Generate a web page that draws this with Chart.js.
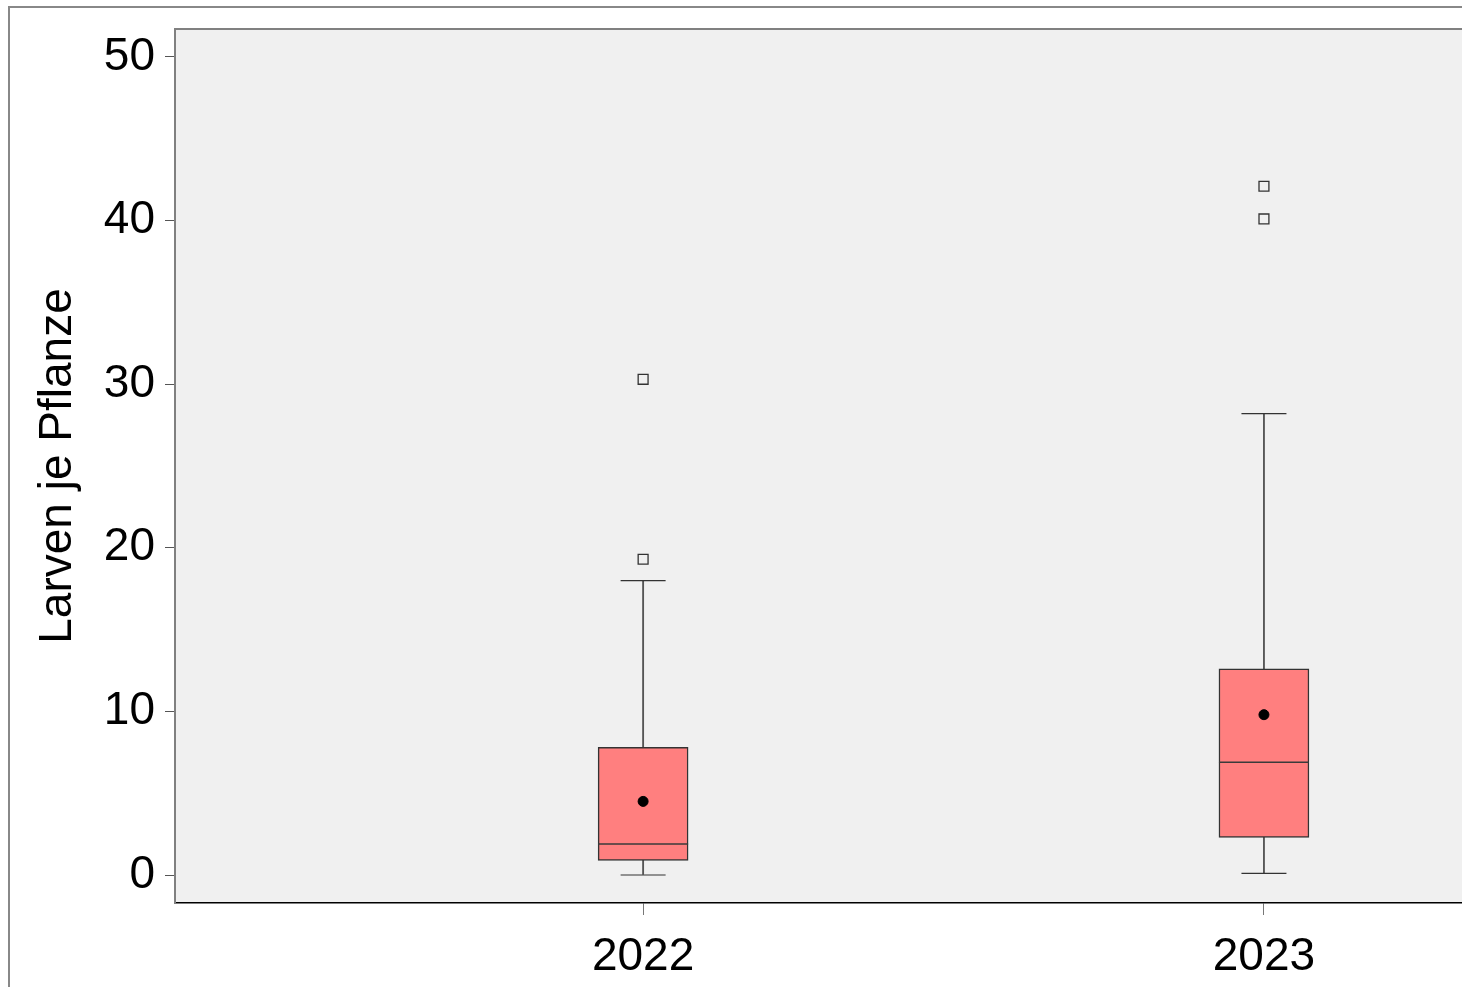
<!DOCTYPE html>
<html>
<head>
<meta charset="utf-8">
<script src="https://cdn.jsdelivr.net/npm/chart.js@4"></script>
<style>
  html, body { margin: 0; padding: 0; background: #fff; overflow: hidden; }
  #frame { position: absolute; left: 8px; top: 6px; width: 1500px; height: 1000px; border: 2px solid #888; box-sizing: border-box; }
  #wrap { position: absolute; left: 0; top: 0; width: 1462px; height: 987px; }
</style>
</head>
<body>
<div id="frame"></div>
<div id="wrap"><canvas id="chart"></canvas></div>
<script>
// Larven je Pflanze, per year
const years = [2022, 2023];
const whiskerLow = [0, 0.1];
const q1 = [0.9, 2.3];
const median = [1.9, 6.9];
const q3 = [7.8, 12.6];
const whiskerHigh = [18.0, 28.2];
const mean = [4.5, 9.8];
const outliers = [[19.3, 30.3], [40.1, 42.1]];
const yTicks = [0, 10, 20, 30, 40, 50];

const FONT = "'Liberation Sans', Arial, sans-serif";

const plotBackground = {
  id: "plotBackground",
  beforeDraw(chart) {
    const { ctx, chartArea: a } = chart;
    ctx.save();
    ctx.fillStyle = "#f0f0f0";
    ctx.fillRect(a.left, a.top, a.right - a.left, a.bottom - a.top);
    ctx.strokeStyle = "#808080";
    ctx.lineWidth = 2;
    ctx.beginPath();
    ctx.moveTo(a.left, a.top);
    ctx.lineTo(a.right, a.top);
    ctx.stroke();
    ctx.restore();
  },
};

const outlierPoints = [];
years.forEach((yr, i) => {
  outliers[i].forEach((v) => outlierPoints.push({ x: yr, y: v }));
});

new Chart("chart", {
  type: "bar",
  data: {
    datasets: [
      {
        type: "scatter",
        label: "mean",
        data: years.map((yr, i) => ({ x: yr, y: mean[i] })),
        pointStyle: "circle",
        pointRadius: 5,
        backgroundColor: "#000",
        borderColor: "#000",
        order: 1,
      },
      {
        type: "scatter",
        label: "median",
        data: years.map((yr, i) => ({ x: yr, y: median[i] })),
        pointStyle: "line",
        pointRadius: 45,
        borderColor: "#3a3a3a",
        borderWidth: 1.5,
        order: 2,
      },
      {
        label: "box",
        data: years.map((yr, i) => ({ x: yr, y: [q1[i], q3[i]] })),
        backgroundColor: "#ff7f7f",
        borderColor: "#333",
        borderWidth: 1.5,
        borderSkipped: false,
        barThickness: 90,
        grouped: false,
        order: 3,
      },
      {
        type: "scatter",
        label: "caps",
        data: years.flatMap((yr, i) => [
          { x: yr, y: whiskerLow[i] },
          { x: yr, y: whiskerHigh[i] },
        ]),
        pointStyle: "line",
        pointRadius: 22.5,
        borderColor: "#333",
        borderWidth: 1.2,
        order: 4,
      },
      {
        label: "whisker",
        data: years.map((yr, i) => ({ x: yr, y: [whiskerLow[i], whiskerHigh[i]] })),
        backgroundColor: "#555",
        borderWidth: 0,
        barThickness: 1.2,
        grouped: false,
        order: 5,
      },
      {
        type: "scatter",
        label: "outliers",
        data: outlierPoints,
        pointStyle: "rect",
        pointRadius: 7,
        backgroundColor: "rgba(0,0,0,0)",
        borderColor: "#333",
        borderWidth: 1.3,
        order: 0,
      },
    ],
  },
  options: {
    responsive: true,
    maintainAspectRatio: false,
    animation: false,
    layout: { autoPadding: false, padding: { top: 29, left: 0, right: 0, bottom: 0 } },
    plugins: {
      legend: { display: false },
      tooltip: { enabled: false },
    },
    scales: {
      x: {
        type: "linear",
        offset: false,
        min: 2021.246,
        max: 2023.319,
        afterBuildTicks: (scale) => {
          scale.ticks = years.map((v) => ({ value: v }));
        },
        afterFit: (scale) => {
          scale.height = 84;
          scale.paddingLeft = 0;
          scale.paddingRight = 0;
        },
        grid: { offset: false, drawOnChartArea: false, drawTicks: true, tickLength: 12, color: "#777" },
        border: { color: "#000", width: 1.5 },
        ticks: {
          padding: 15,
          color: "#000",
          font: { family: FONT, size: 46 },
          callback: (v) => String(v),
        },
      },
      y: {
        type: "linear",
        min: -1.71,
        max: 51.71,
        afterBuildTicks: (scale) => {
          scale.ticks = yTicks.map((v) => ({ value: v }));
        },
        afterFit: (scale) => {
          scale.width = 175;
          scale.paddingTop = 0;
          scale.paddingBottom = 0;
        },
        grid: { drawOnChartArea: false, drawTicks: true, tickLength: 10, color: "#555" },
        border: { color: "#808080", width: 2 },
        ticks: {
          padding: 10,
          color: "#000",
          font: { family: FONT, size: 46 },
        },
        title: {
          display: true,
          text: "Larven je Pflanze",
          color: "#000",
          font: { family: FONT, size: 46 },
          padding: { top: 31, bottom: 0 },
        },
      },
    },
  },
  plugins: [plotBackground],
});
</script>
</body>
</html>
